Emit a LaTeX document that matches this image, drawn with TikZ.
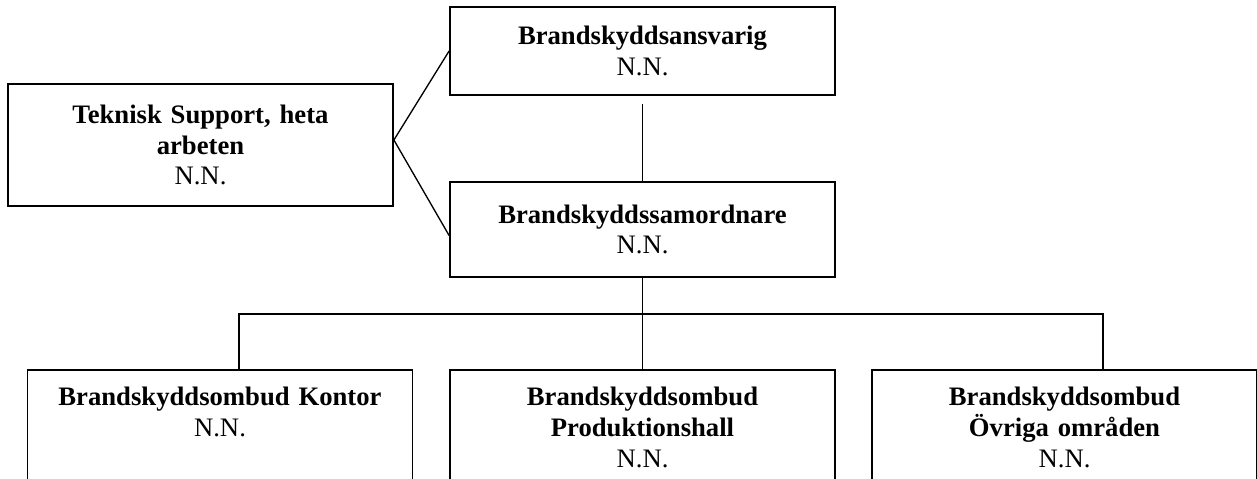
\documentclass[tikz,border=0pt]{standalone}
\usepackage{fontspec}
\setmainfont{Liberation Serif}
\usetikzlibrary{calc}
\newcommand{\pxu}{0.45pt}
\newcommand{\connectbox}[2]{%
  \draw[link] (#1) -- (#2)}

\begin{document}
\begin{tikzpicture}[x=\pxu, y=-\pxu,
    box/.style={draw, line width=0.8pt, align=center, text width=370*\pxu,
      minimum width=385*\pxu, inner xsep=0pt, font=\fontsize{12}{13.8}\selectfont},
    topbox/.style={box, minimum height=#1*\pxu},
    lowbox/.style={box, anchor=north, inner ysep=0pt,
      text height=36*\pxu, text depth=130*\pxu},
    link/.style={line width=0.6pt}]
  \useasboundingbox (0,0) rectangle (1257,479);

  \node[topbox=88] (ansv) at (642.5,51) {\textbf{Brandskyddsansvarig}\\N.N.};
  \node[topbox=122] (tek) at (200.5,145) {\textbf{Teknisk Support, heta}\\\textbf{arbeten}\\N.N.};
  \node[topbox=95] (samord) at (642.5,229.5) {\textbf{Brandskyddssamordnare}\\N.N.};

  \node[lowbox] (kontor) at (220,369) {\textbf{Brandskyddsombud Kontor}\\N.N.};
  \node[lowbox] (prod) at (642.5,369) {\textbf{Brandskyddsombud}\\\textbf{Produktionshall}\\N.N.};
  \node[lowbox] (ovr) at (1064.5,369) {\textbf{Brandskyddsombud}\\\textbf{Övriga områden}\\N.N.};

  \coordinate (tekjoin) at ($(tek.east)+(0,-5)$);
  \coordinate (bus) at ($(samord.south)+(0,36)$);
  \coordinate (kin) at ($(kontor.north)+(19,0)$);
  \coordinate (oin) at ($(ovr.north)+(38.5,0)$);

  \connectbox{tekjoin}{ansv.west};
  \connectbox{tekjoin}{$(samord.west)+(0,6)$};
  \connectbox{[yshift=-8*\pxu]ansv.south}{samord.north};
  \connectbox{samord.south}{prod.north};
  \draw[link] (kin) |- (bus) -| (oin);
\end{tikzpicture}
\end{document}
